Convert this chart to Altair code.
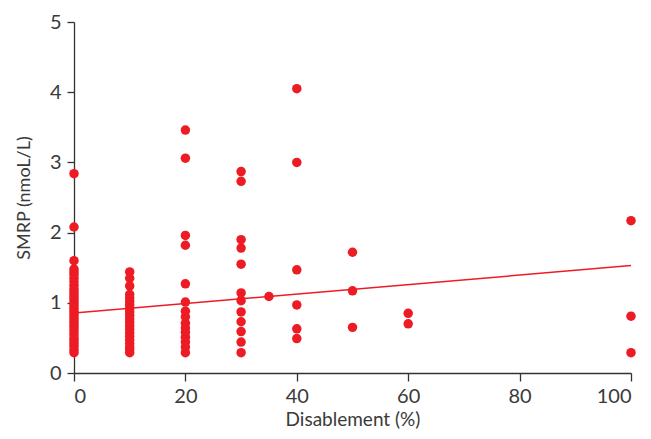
import altair as alt
import pandas as pd

# Scatter data: disablement (%) and SMRP (nmol/L)
x0_vals = [0.29, 0.33, 0.38, 0.42, 0.46, 0.50, 0.55, 0.60, 0.64, 0.68, 0.72, 0.76, 0.80,
           0.84, 0.88, 0.92, 0.96, 1.00, 1.04, 1.08, 1.12, 1.16, 1.20, 1.25, 1.30, 1.35,
           1.40, 1.44, 1.48, 1.60, 2.08, 2.84]
x10_vals = [0.29, 0.33, 0.37, 0.42, 0.47, 0.52, 0.57, 0.62, 0.67, 0.72, 0.77, 0.82, 0.87,
            0.92, 0.97, 1.02, 1.07, 1.12, 1.24, 1.35, 1.44]
x20_vals = [0.29, 0.37, 0.44, 0.51, 0.58, 0.64, 0.71, 0.80, 0.88, 1.01, 1.27, 1.82, 1.96,
            3.06, 3.46]
x30_vals = [0.29, 0.44, 0.59, 0.73, 0.87, 1.03, 1.14, 1.55, 1.78, 1.90, 2.73, 2.87]
x35_vals = [1.09]
x40_vals = [0.49, 0.63, 0.97, 1.47, 3.00, 4.05]
x50_vals = [0.65, 1.17, 1.72]
x60_vals = [0.70, 0.85]
x100_vals = [0.29, 0.81, 2.17]

groups = [(0, x0_vals), (10, x10_vals), (20, x20_vals), (30, x30_vals), (35, x35_vals),
          (40, x40_vals), (50, x50_vals), (60, x60_vals), (100, x100_vals)]

# Fitted line endpoints
line_x = [0, 100]
line_y = [0.855, 1.53]

x_ticks = [0, 20, 40, 60, 80, 100]
y_ticks = [0, 1, 2, 3, 4, 5]

rows = []
for xv, ys in groups:
    for yv in ys:
        rows.append({"x": xv, "y": yv})
df = pd.DataFrame(rows)
line_df = pd.DataFrame({"x": line_x, "y": line_y})

RED = "#ED1C24"
FONT = "Lato"

xscale = alt.Scale(domain=[0, 100], nice=False, zero=False)
yscale = alt.Scale(domain=[0, 5], nice=False)

xaxis = alt.Axis(title="Disablement (%)", values=x_ticks, format="d", grid=False,
                 tickSize=8, labelPadding=5, titlePadding=4, titleFontSize=19)
yaxis = alt.Axis(title="SMRP (nmoL/L)", values=y_ticks, format="d", grid=False,
                 tickSize=7, labelPadding=6, titlePadding=16, titleFontSize=18)

line = alt.Chart(line_df).mark_line(color=RED, strokeWidth=1.5).encode(
    x=alt.X("x:Q", scale=xscale, axis=xaxis),
    y=alt.Y("y:Q", scale=yscale, axis=yaxis),
)

points = alt.Chart(df).mark_circle(color=RED, opacity=1, size=90).encode(
    x=alt.X("x:Q", scale=xscale),
    y=alt.Y("y:Q", scale=yscale),
)

chart = alt.layer(points, line).properties(
    width=557, height=351,
    autosize=alt.AutoSizeParams(type="none"),
    padding={"left": 66, "top": 14, "right": 12, "bottom": 58},
).configure_view(stroke=None).configure_axis(
    domainColor="#333333", tickColor="#333333", labelColor="#3a3a3a", titleColor="#3a3a3a",
    labelFont=FONT, titleFont=FONT, labelFontSize=20,
    titleFontWeight="normal", domainWidth=1.3, tickWidth=1.3,
)

chart.save("out.html", embed_options={"renderer": "svg", "actions": False})
